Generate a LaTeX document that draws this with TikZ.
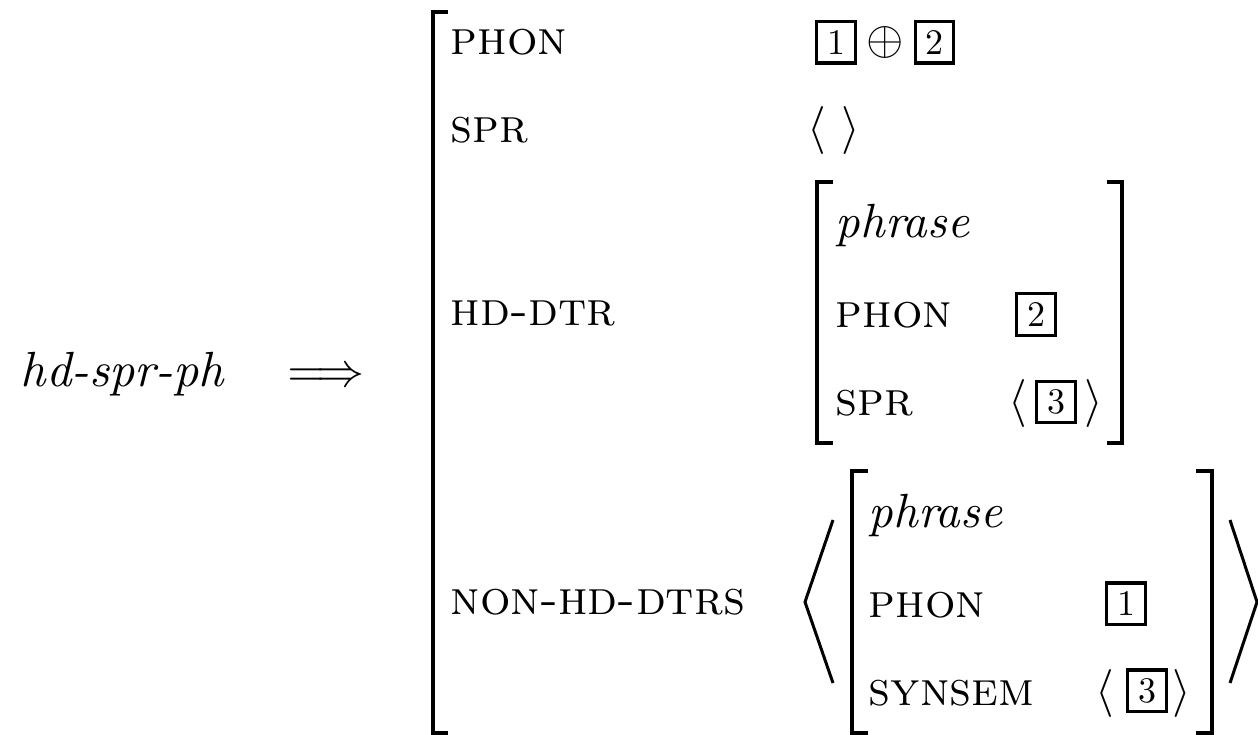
\documentclass[tikz,border=0pt]{standalone}
\usepackage{tikz}
\usetikzlibrary{calc}

\tikzset{
  feat/.style={anchor=base west, inner sep=0pt, scale=4.8},
  delim/.style={anchor=base, inner sep=0pt, scale=4.8},
  tagbox/.style={draw, line width=3.4pt, inner sep=0pt, scale=3.6,
    minimum width=10.7pt, minimum height=11.5pt},
  brack/.style={line width=3.8pt},
  angl/.style={line width=3pt},
}

\begin{document}
\begin{tikzpicture}[x=1pt,y=-1pt]
  \useasboundingbox (0,0) rectangle (1258,735);

  %% Left hand side of the rule
  \node[feat, scale=1.03] (TYPE) at (20,386) {\textit{hd-spr-ph}};
  \node[delim] (IMPL) at (326,386) {$\Longrightarrow$};

  %% Outer matrix: bracket and feature names
  \draw[brack] (448,12) -- (433,12) -- (433,733) -- (448,733);
  \foreach \n/\lab/\y in {PHON/phon/55, SPR/spr/143, HDDTR/hd-dtr/326, NHDTRS/non-hd-dtrs/614}
  {
    \node[feat] (\n) at (450,\y) {\textsc{\lab}};
  }

  %% PHON and SPR values
  \node[tagbox] (TAGa) at (836,42.5) {1};
  \node[delim] (OPLUS) at (885,55) {$\oplus$};
  \node[tagbox] (TAGb) at (934.5,42.5) {2};
  \node[delim] (SPRl) at (817,143) {$\langle$};
  \node[delim] (SPRr) at (851,143) {$\rangle$};

  %% HD-DTR value
  \draw[brack] (833,182) -- (817,182) -- (817,443) -- (833,443);
  \draw[brack] (1107,182) -- (1122,182) -- (1122,443) -- (1107,443);
  \node[feat] (HDtype) at (835,238) {\textit{phrase}};
  \foreach \n/\lab/\y in {HDphon/phon/327, HDspr/spr/415}
  {
    \node[feat] (\n) at (835,\y) {\textsc{\lab}};
  }
  \node[tagbox] (HDtagb) at (1036,314.5) {2};
  \node[delim] (HDl) at (1017.5,415) {$\langle$};
  \node[tagbox] (HDtagc) at (1056,402) {3};
  \node[delim] (HDr) at (1094,415) {$\rangle$};

  %% NON-HD-DTRS value: a list of one phrase
  \draw[angl] (833,520) -- (805,602) -- (833,683);
  \draw[brack] (868,471) -- (852,471) -- (852,733) -- (868,733);
  \draw[brack] (1196,471) -- (1212,471) -- (1212,733) -- (1196,733);
  \draw[angl] (1230,520) -- (1257,602) -- (1230,683);
  \node[feat] (NHtype) at (868,527) {\textit{phrase}};
  \foreach \n/\lab/\y in {NHphon/phon/617, NHsynsem/synsem/705}
  {
    \node[feat] (\n) at (868,\y) {\textsc{\lab}};
  }
  \node[tagbox] (NHtaga) at (1126,603.5) {1};
  \node[delim] (NHl) at (1105,705) {$\langle$};
  \node[tagbox] (NHtagc) at (1147,690.5) {3};
  \node[delim] (NHr) at (1182,705) {$\rangle$};

\end{tikzpicture}
\end{document}
